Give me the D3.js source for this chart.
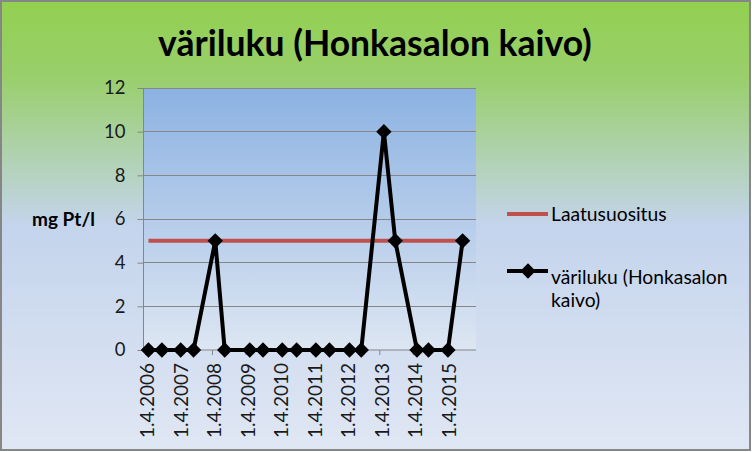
<!DOCTYPE html>
<html><head><meta charset="utf-8">
<script src="https://cdn.jsdelivr.net/npm/d3@7/dist/d3.min.js"></script>
<style>html,body{margin:0;padding:0;background:#fff}svg{display:block}</style>
</head><body>
<script>
const title = "väriluku (Honkasalon kaivo)";
const yLabel = "mg Pt/l";
const seriesNames = ["Laatusuositus", "väriluku (Honkasalon kaivo)"];
const dates = ["2006-05-09","2006-10-03","2007-04-26","2007-09-13","2008-05-07","2008-08-18",
  "2009-05-18","2009-10-10","2010-05-08","2010-10-12","2011-05-10","2011-10-05",
  "2012-05-11","2012-09-16","2013-05-21","2013-09-22","2014-05-17","2014-09-19",
  "2015-04-20","2015-09-27"];
const varilukuValues = [0,0,0,0,5,0,0,0,0,0,0,0,0,0,10,5,0,0,0,5];
const laatusuositusValues = dates.map(() => 5);
const tickDates = ["2006-04-01","2007-04-01","2008-04-01","2009-04-01","2010-04-01",
  "2011-04-01","2012-04-01","2013-04-01","2014-04-01","2015-04-01"];
const tickLabels = ["1.4.2006","1.4.2007","1.4.2008","1.4.2009","1.4.2010",
  "1.4.2011","1.4.2012","1.4.2013","1.4.2014","1.4.2015"];
const yTicks = [0,2,4,6,8,10,12];
const xDomain = ["2006-03-16","2016-02-20"];

const W = 752, H = 452;
const plot = {left: 143.5, right: 476, top: 88, bottom: 350};
const FONT = "Lato, 'Open Sans', sans-serif";
const parse = d3.utcParse("%Y-%m-%d");
const svg = d3.select("body").append("svg").attr("width", W).attr("height", H);
const defs = svg.append("defs");
const bg = defs.append("linearGradient").attr("id","bg").attr("x1",0).attr("y1",0).attr("x2",0).attr("y2",1);
bg.append("stop").attr("offset","0%").attr("stop-color","#92d050");
bg.append("stop").attr("offset","17%").attr("stop-color","#99cf6c");
bg.append("stop").attr("offset","50%").attr("stop-color","#c4d4ec");
bg.append("stop").attr("offset","100%").attr("stop-color","#e0e7f4");
const pg = defs.append("linearGradient").attr("id","pg").attr("x1",0).attr("y1",0).attr("x2",0).attr("y2",1);
pg.append("stop").attr("offset","0%").attr("stop-color","#8cb2e2");
pg.append("stop").attr("offset","100%").attr("stop-color","#dde6f2");

svg.append("rect").attr("x",1).attr("y",1).attr("width",W-3).attr("height",H-3)
  .attr("fill","url(#bg)").attr("stroke","#868686").attr("stroke-width",2);

const x = d3.scaleUtc().domain(xDomain.map(parse)).range([plot.left, plot.right]);
const y = d3.scaleLinear().domain([0,12]).range([plot.bottom, plot.top]);

svg.append("rect").attr("x",plot.left).attr("y",plot.top)
  .attr("width",plot.right-plot.left).attr("height",plot.bottom-plot.top).attr("fill","url(#pg)");

// gridlines
svg.append("g").selectAll("line").data(yTicks.filter(d=>d>0)).join("line")
  .attr("x1",plot.left).attr("x2",plot.right).attr("y1",d=>y(d)).attr("y2",d=>y(d))
  .attr("stroke","#868686").attr("stroke-width",1).attr("shape-rendering","crispEdges");

// y axis
const yAxis = svg.append("g").attr("transform",`translate(${plot.left},0)`)
  .call(d3.axisLeft(y).tickValues(yTicks).tickSize(6).tickPadding(12));
yAxis.select(".domain").attr("stroke","#868686").attr("d",`M0,${plot.top}V${plot.bottom}`);
yAxis.selectAll(".tick line").attr("stroke","#868686");
yAxis.selectAll(".tick text").attr("font-family",FONT)
  .attr("font-size",18.5).attr("fill","#1a1a1a");

// x axis
const xAxis = svg.append("g").attr("transform",`translate(0,${plot.bottom})`)
  .call(d3.axisBottom(x).tickValues(tickDates.map(parse)).tickSize(5)
    .tickFormat((d,i)=>tickLabels[i]));
xAxis.select(".domain").attr("stroke","#868686").attr("d",`M${plot.left},0H${plot.right}`);
xAxis.selectAll(".tick line").attr("stroke","#868686");
xAxis.selectAll(".tick text").attr("font-family",FONT)
  .attr("font-size",19).attr("fill","#1a1a1a")
  .attr("text-anchor","end")
  .attr("x",-13).attr("y",0).attr("dy","0.36em").attr("dx",0)
  .attr("transform","translate(2,0) rotate(-90)");

// red line
const lineGen = d3.line().x((d,i)=>x(parse(dates[i]))).y(d=>y(d));
svg.append("path").datum(laatusuositusValues).attr("d",lineGen)
  .attr("fill","none").attr("stroke","#c0504d").attr("stroke-width",4);

// black line
svg.append("path").datum(varilukuValues).attr("d",lineGen)
  .attr("fill","none").attr("stroke","#000").attr("stroke-width",4).attr("stroke-linejoin","round");
const diamond = d3.symbol().type(d3.symbolDiamond2).size(150);
svg.append("g").selectAll("path").data(varilukuValues).join("path")
  .attr("d",diamond)
  .attr("transform",(d,i)=>`translate(${x(parse(dates[i]))},${y(d)})`)
  .attr("fill","#000");

// title
svg.append("text").attr("x",375).attr("y",56).attr("text-anchor","middle")
  .attr("font-family",FONT).attr("font-weight","bold")
  .attr("font-size",35.5).attr("fill","#000").text(title);

// y label
svg.append("text").attr("x",95).attr("y",226).attr("text-anchor","end")
  .attr("font-family",FONT).attr("font-weight","bold")
  .attr("font-size",19).attr("fill","#000").text(yLabel);

// legend
const lg = svg.append("g").attr("font-family",FONT).attr("font-size",19.3).attr("fill","#000");
lg.append("line").attr("x1",507).attr("x2",548).attr("y1",214).attr("y2",214)
  .attr("stroke","#c0504d").attr("stroke-width",4);
lg.append("text").attr("x",551).attr("y",221).text(seriesNames[0]);
lg.append("line").attr("x1",507).attr("x2",548).attr("y1",271).attr("y2",271)
  .attr("stroke","#000").attr("stroke-width",4);
lg.append("path").attr("d",diamond).attr("transform","translate(528,271)").attr("fill","#000");
const t2 = lg.append("text").attr("x",551).attr("y",284);
t2.append("tspan").attr("x",551).text("väriluku (Honkasalon");
t2.append("tspan").attr("x",551).attr("dy",23).text("kaivo)");
</script>
</body></html>
